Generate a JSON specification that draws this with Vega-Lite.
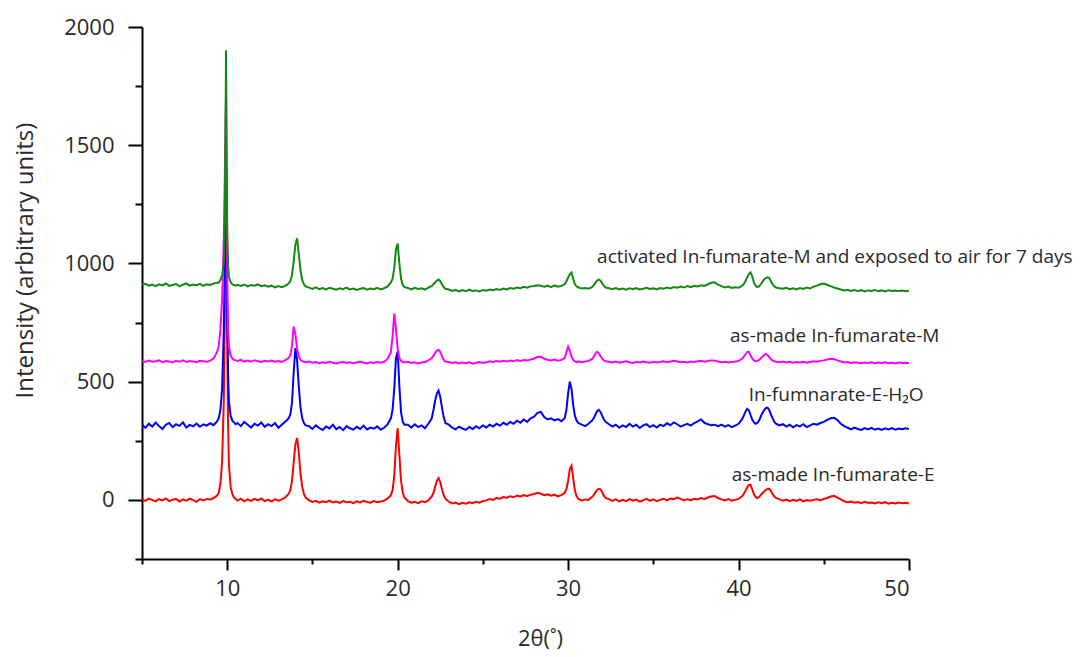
{
  "$schema": "https://vega.github.io/schema/vega-lite/v6.json",
  "width": 767,
  "height": 532,
  "autosize": "none",
  "padding": {"left": 142, "top": 27, "right": 178, "bottom": 98},
  "background": "white",
  "config": {
    "view": {"stroke": null},
    "font": "Open Sans",
    "axis": {"grid": false, "domainColor": "#000", "domainWidth": 2, "tickColor": "#000", "tickWidth": 2, "labelFont": "Open Sans", "labelColor": "#2a2a2a", "labelFontSize": 22, "titleFont": "Open Sans", "titleColor": "#2a2a2a", "titleFontWeight": "normal"}
  },
  "datasets": {
    "xrd": [
      {"x":5.0,"E":2,"H":318,"M":587,"A":910},
      {"x":5.2,"E":-4,"H":305,"M":583,"A":914},
      {"x":5.4,"E":5,"H":322,"M":589,"A":906},
      {"x":5.6,"E":0,"H":310,"M":584,"A":911},
      {"x":5.8,"E":-6,"H":327,"M":586,"A":904},
      {"x":6.0,"E":3,"H":312,"M":590,"A":912},
      {"x":6.2,"E":-2,"H":300,"M":582,"A":907},
      {"x":6.4,"E":6,"H":318,"M":587,"A":915},
      {"x":6.6,"E":-5,"H":325,"M":585,"A":905},
      {"x":6.8,"E":1,"H":308,"M":581,"A":909},
      {"x":7.0,"E":4,"H":320,"M":588,"A":913},
      {"x":7.2,"E":-7,"H":313,"M":584,"A":903},
      {"x":7.4,"E":2,"H":328,"M":590,"A":910},
      {"x":7.6,"E":-3,"H":306,"M":583,"A":916},
      {"x":7.8,"E":5,"H":317,"M":587,"A":906},
      {"x":8.0,"E":-1,"H":311,"M":585,"A":911},
      {"x":8.2,"E":-8,"H":323,"M":582,"A":908},
      {"x":8.4,"E":3,"H":309,"M":588,"A":914},
      {"x":8.6,"E":-2,"H":319,"M":586,"A":905},
      {"x":8.8,"E":4,"H":314,"M":584,"A":912},
      {"x":9.0,"E":2,"H":324,"M":589,"A":909},
      {"x":9.2,"E":8,"H":316,"M":598,"A":915},
      {"x":9.4,"E":18,"H":332,"M":625,"A":918},
      {"x":9.5,"E":30,"H":345,"M":650,"A":918},
      {"x":9.6,"E":70,"H":380,"M":720,"A":930},
      {"x":9.7,"E":160,"H":470,"M":850,"A":950},
      {"x":9.8,"E":420,"H":720,"M":1100,"A":1000},
      {"x":9.86,"E":800,"H":1000,"M":1380,"A":1200},
      {"x":9.9,"E":1250,"H":1300,"M":1600,"A":1550},
      {"x":9.93,"E":1480,"H":1450,"M":1700,"A":1902},
      {"x":9.96,"E":1200,"H":1150,"M":1350,"A":1550},
      {"x":10.0,"E":700,"H":800,"M":950,"A":1150},
      {"x":10.05,"E":320,"H":530,"M":720,"A":990},
      {"x":10.1,"E":150,"H":420,"M":650,"A":945},
      {"x":10.2,"E":55,"H":355,"M":610,"A":920},
      {"x":10.3,"E":25,"H":335,"M":598,"A":912},
      {"x":10.4,"E":10,"H":328,"M":592,"A":908},
      {"x":10.5,"E":4,"H":320,"M":590,"A":906},
      {"x":10.6,"E":-3,"H":325,"M":588,"A":910},
      {"x":10.8,"E":5,"H":312,"M":592,"A":905},
      {"x":11.0,"E":-6,"H":330,"M":585,"A":911},
      {"x":11.2,"E":2,"H":318,"M":589,"A":903},
      {"x":11.4,"E":-4,"H":306,"M":584,"A":909},
      {"x":11.6,"E":4,"H":322,"M":590,"A":906},
      {"x":11.8,"E":-2,"H":314,"M":586,"A":912},
      {"x":12.0,"E":6,"H":327,"M":583,"A":904},
      {"x":12.2,"E":-5,"H":309,"M":588,"A":908},
      {"x":12.4,"E":1,"H":320,"M":585,"A":902},
      {"x":12.6,"E":-7,"H":312,"M":589,"A":906},
      {"x":12.8,"E":3,"H":325,"M":584,"A":899},
      {"x":13.0,"E":-3,"H":305,"M":587,"A":904},
      {"x":13.2,"E":2,"H":318,"M":583,"A":900},
      {"x":13.4,"E":10,"H":330,"M":590,"A":905},
      {"x":13.6,"E":25,"H":345,"M":600,"A":915},
      {"x":13.7,"E":40,"H":360,"M":610,"A":925},
      {"x":13.8,"E":80,"H":410,"M":650,"A":950},
      {"x":13.9,"E":160,"H":540,"M":733,"A":1010},
      {"x":14.0,"E":235,"H":642,"M":700,"A":1080},
      {"x":14.1,"E":262,"H":590,"M":640,"A":1106},
      {"x":14.2,"E":200,"H":480,"M":605,"A":1040},
      {"x":14.3,"E":110,"H":390,"M":592,"A":970},
      {"x":14.4,"E":55,"H":345,"M":587,"A":930},
      {"x":14.5,"E":25,"H":325,"M":584,"A":912},
      {"x":14.6,"E":10,"H":315,"M":582,"A":903},
      {"x":14.8,"E":-2,"H":312,"M":585,"A":898},
      {"x":15.0,"E":-9,"H":300,"M":580,"A":892},
      {"x":15.2,"E":-4,"H":315,"M":583,"A":899},
      {"x":15.4,"E":-12,"H":304,"M":578,"A":891},
      {"x":15.6,"E":-6,"H":296,"M":582,"A":896},
      {"x":15.8,"E":-10,"H":310,"M":579,"A":890},
      {"x":16.0,"E":-3,"H":302,"M":584,"A":897},
      {"x":16.2,"E":-11,"H":318,"M":580,"A":893},
      {"x":16.4,"E":-7,"H":299,"M":577,"A":889},
      {"x":16.6,"E":-13,"H":308,"M":581,"A":895},
      {"x":16.8,"E":-5,"H":295,"M":583,"A":891},
      {"x":17.0,"E":-10,"H":312,"M":579,"A":898},
      {"x":17.2,"E":-8,"H":303,"M":582,"A":890},
      {"x":17.4,"E":-14,"H":297,"M":578,"A":894},
      {"x":17.6,"E":-6,"H":309,"M":581,"A":888},
      {"x":17.8,"E":-11,"H":300,"M":584,"A":893},
      {"x":18.0,"E":-4,"H":314,"M":580,"A":896},
      {"x":18.2,"E":-9,"H":298,"M":577,"A":889},
      {"x":18.4,"E":-12,"H":306,"M":582,"A":894},
      {"x":18.6,"E":-5,"H":301,"M":579,"A":891},
      {"x":18.8,"E":-10,"H":311,"M":583,"A":897},
      {"x":19.0,"E":-7,"H":297,"M":580,"A":890},
      {"x":19.2,"E":-3,"H":305,"M":584,"A":895},
      {"x":19.4,"E":5,"H":318,"M":595,"A":902},
      {"x":19.6,"E":20,"H":345,"M":625,"A":920},
      {"x":19.7,"E":40,"H":380,"M":690,"A":935},
      {"x":19.8,"E":100,"H":470,"M":788,"A":980},
      {"x":19.9,"E":230,"H":600,"M":720,"A":1060},
      {"x":20.0,"E":303,"H":628,"M":640,"A":1084},
      {"x":20.1,"E":190,"H":480,"M":600,"A":1000},
      {"x":20.2,"E":80,"H":370,"M":588,"A":935},
      {"x":20.3,"E":30,"H":330,"M":583,"A":908},
      {"x":20.4,"E":10,"H":318,"M":581,"A":900},
      {"x":20.6,"E":-5,"H":318,"M":584,"A":896},
      {"x":20.8,"E":-12,"H":306,"M":579,"A":890},
      {"x":21.0,"E":-8,"H":320,"M":582,"A":897},
      {"x":21.2,"E":-14,"H":308,"M":577,"A":892},
      {"x":21.4,"E":-6,"H":315,"M":581,"A":895},
      {"x":21.6,"E":-10,"H":303,"M":583,"A":889},
      {"x":21.8,"E":-2,"H":322,"M":590,"A":898},
      {"x":22.0,"E":15,"H":345,"M":600,"A":905},
      {"x":22.1,"E":30,"H":380,"M":610,"A":912},
      {"x":22.2,"E":55,"H":420,"M":622,"A":920},
      {"x":22.3,"E":80,"H":450,"M":632,"A":928},
      {"x":22.4,"E":92,"H":462,"M":635,"A":932},
      {"x":22.5,"E":75,"H":435,"M":625,"A":925},
      {"x":22.6,"E":45,"H":390,"M":608,"A":912},
      {"x":22.7,"E":20,"H":350,"M":593,"A":900},
      {"x":22.8,"E":5,"H":325,"M":585,"A":893},
      {"x":23.0,"E":-8,"H":318,"M":583,"A":890},
      {"x":23.2,"E":-15,"H":305,"M":579,"A":884},
      {"x":23.4,"E":-11,"H":298,"M":582,"A":888},
      {"x":23.6,"E":-18,"H":310,"M":577,"A":882},
      {"x":23.8,"E":-12,"H":302,"M":581,"A":887},
      {"x":24.0,"E":-16,"H":296,"M":578,"A":883},
      {"x":24.2,"E":-10,"H":308,"M":582,"A":889},
      {"x":24.4,"E":-14,"H":300,"M":576,"A":884},
      {"x":24.6,"E":-8,"H":312,"M":580,"A":886},
      {"x":24.8,"E":-12,"H":303,"M":583,"A":882},
      {"x":25.0,"E":-5,"H":315,"M":579,"A":888},
      {"x":25.2,"E":-2,"H":306,"M":582,"A":885},
      {"x":25.4,"E":4,"H":318,"M":586,"A":890},
      {"x":25.6,"E":0,"H":310,"M":583,"A":887},
      {"x":25.8,"E":8,"H":322,"M":587,"A":892},
      {"x":26.0,"E":5,"H":314,"M":584,"A":888},
      {"x":26.2,"E":12,"H":326,"M":588,"A":894},
      {"x":26.4,"E":9,"H":318,"M":585,"A":890},
      {"x":26.6,"E":15,"H":330,"M":589,"A":896},
      {"x":26.8,"E":11,"H":322,"M":586,"A":893},
      {"x":27.0,"E":18,"H":335,"M":591,"A":898},
      {"x":27.2,"E":14,"H":326,"M":588,"A":895},
      {"x":27.4,"E":20,"H":340,"M":592,"A":901},
      {"x":27.6,"E":16,"H":330,"M":590,"A":897},
      {"x":27.8,"E":22,"H":345,"M":594,"A":903},
      {"x":28.0,"E":25,"H":352,"M":598,"A":905},
      {"x":28.2,"E":30,"H":368,"M":604,"A":908},
      {"x":28.4,"E":26,"H":372,"M":605,"A":906},
      {"x":28.6,"E":20,"H":350,"M":597,"A":902},
      {"x":28.8,"E":24,"H":340,"M":593,"A":906},
      {"x":29.0,"E":18,"H":345,"M":590,"A":900},
      {"x":29.2,"E":22,"H":336,"M":594,"A":907},
      {"x":29.4,"E":15,"H":342,"M":589,"A":902},
      {"x":29.6,"E":20,"H":333,"M":592,"A":905},
      {"x":29.8,"E":30,"H":345,"M":600,"A":912},
      {"x":29.9,"E":45,"H":380,"M":625,"A":925},
      {"x":30.0,"E":80,"H":450,"M":648,"A":940},
      {"x":30.1,"E":130,"H":500,"M":630,"A":955},
      {"x":30.2,"E":144,"H":470,"M":605,"A":962},
      {"x":30.3,"E":90,"H":400,"M":592,"A":935},
      {"x":30.4,"E":40,"H":355,"M":586,"A":912},
      {"x":30.5,"E":15,"H":335,"M":583,"A":903},
      {"x":30.6,"E":5,"H":325,"M":586,"A":898},
      {"x":30.8,"E":-3,"H":318,"M":582,"A":894},
      {"x":31.0,"E":2,"H":312,"M":585,"A":896},
      {"x":31.2,"E":0,"H":322,"M":588,"A":893},
      {"x":31.4,"E":12,"H":335,"M":595,"A":900},
      {"x":31.5,"E":20,"H":345,"M":605,"A":908},
      {"x":31.6,"E":32,"H":360,"M":618,"A":918},
      {"x":31.7,"E":42,"H":375,"M":627,"A":928},
      {"x":31.8,"E":47,"H":381,"M":620,"A":932},
      {"x":31.9,"E":45,"H":372,"M":608,"A":928},
      {"x":32.0,"E":32,"H":355,"M":597,"A":915},
      {"x":32.1,"E":18,"H":340,"M":590,"A":905},
      {"x":32.2,"E":8,"H":330,"M":586,"A":898},
      {"x":32.4,"E":3,"H":320,"M":584,"A":895},
      {"x":32.6,"E":-4,"H":310,"M":581,"A":891},
      {"x":32.8,"E":2,"H":318,"M":585,"A":896},
      {"x":33.0,"E":-6,"H":305,"M":580,"A":890},
      {"x":33.2,"E":0,"H":315,"M":583,"A":894},
      {"x":33.4,"E":-5,"H":308,"M":586,"A":889},
      {"x":33.6,"E":3,"H":322,"M":582,"A":895},
      {"x":33.8,"E":-3,"H":310,"M":579,"A":891},
      {"x":34.0,"E":1,"H":318,"M":584,"A":896},
      {"x":34.2,"E":-7,"H":304,"M":581,"A":890},
      {"x":34.4,"E":-2,"H":315,"M":585,"A":893},
      {"x":34.6,"E":4,"H":320,"M":582,"A":897},
      {"x":34.8,"E":-4,"H":308,"M":580,"A":892},
      {"x":35.0,"E":2,"H":316,"M":584,"A":895},
      {"x":35.2,"E":-5,"H":306,"M":581,"A":890},
      {"x":35.4,"E":0,"H":318,"M":583,"A":896},
      {"x":35.6,"E":5,"H":312,"M":586,"A":893},
      {"x":35.8,"E":-2,"H":324,"M":582,"A":898},
      {"x":36.0,"E":6,"H":316,"M":585,"A":894},
      {"x":36.2,"E":3,"H":328,"M":588,"A":900},
      {"x":36.4,"E":10,"H":320,"M":585,"A":897},
      {"x":36.6,"E":4,"H":310,"M":582,"A":902},
      {"x":36.8,"E":-2,"H":316,"M":584,"A":898},
      {"x":37.0,"E":3,"H":322,"M":581,"A":904},
      {"x":37.2,"E":-1,"H":314,"M":585,"A":900},
      {"x":37.4,"E":5,"H":325,"M":583,"A":906},
      {"x":37.6,"E":2,"H":332,"M":586,"A":903},
      {"x":37.8,"E":8,"H":340,"M":588,"A":908},
      {"x":38.0,"E":4,"H":326,"M":584,"A":905},
      {"x":38.2,"E":10,"H":320,"M":587,"A":912},
      {"x":38.4,"E":14,"H":316,"M":590,"A":918},
      {"x":38.6,"E":16,"H":318,"M":589,"A":920},
      {"x":38.8,"E":8,"H":312,"M":585,"A":910},
      {"x":39.0,"E":2,"H":318,"M":582,"A":904},
      {"x":39.2,"E":-2,"H":310,"M":584,"A":898},
      {"x":39.4,"E":3,"H":316,"M":581,"A":902},
      {"x":39.6,"E":-3,"H":308,"M":583,"A":896},
      {"x":39.8,"E":0,"H":314,"M":585,"A":899},
      {"x":40.0,"E":4,"H":322,"M":588,"A":897},
      {"x":40.2,"E":15,"H":340,"M":597,"A":905},
      {"x":40.3,"E":25,"H":355,"M":605,"A":912},
      {"x":40.4,"E":38,"H":372,"M":615,"A":925},
      {"x":40.5,"E":52,"H":385,"M":625,"A":940},
      {"x":40.6,"E":62,"H":380,"M":627,"A":955},
      {"x":40.7,"E":64,"H":360,"M":612,"A":962},
      {"x":40.8,"E":45,"H":340,"M":598,"A":945},
      {"x":40.9,"E":25,"H":328,"M":590,"A":920},
      {"x":41.0,"E":12,"H":322,"M":586,"A":905},
      {"x":41.1,"E":8,"H":325,"M":588,"A":900},
      {"x":41.2,"E":12,"H":335,"M":592,"A":903},
      {"x":41.3,"E":20,"H":352,"M":598,"A":912},
      {"x":41.4,"E":28,"H":368,"M":606,"A":922},
      {"x":41.5,"E":36,"H":380,"M":613,"A":932},
      {"x":41.6,"E":42,"H":388,"M":618,"A":938},
      {"x":41.7,"E":46,"H":390,"M":612,"A":941},
      {"x":41.8,"E":47,"H":380,"M":603,"A":938},
      {"x":41.9,"E":38,"H":362,"M":595,"A":925},
      {"x":42.0,"E":25,"H":345,"M":589,"A":912},
      {"x":42.1,"E":14,"H":330,"M":586,"A":903},
      {"x":42.2,"E":8,"H":322,"M":584,"A":898},
      {"x":42.4,"E":2,"H":315,"M":582,"A":895},
      {"x":42.6,"E":-3,"H":320,"M":585,"A":893},
      {"x":42.8,"E":1,"H":310,"M":581,"A":897},
      {"x":43.0,"E":-5,"H":318,"M":584,"A":891},
      {"x":43.2,"E":0,"H":307,"M":580,"A":895},
      {"x":43.4,"E":-4,"H":316,"M":583,"A":890},
      {"x":43.6,"E":2,"H":311,"M":581,"A":896},
      {"x":43.8,"E":-6,"H":320,"M":584,"A":892},
      {"x":44.0,"E":-1,"H":308,"M":580,"A":898},
      {"x":44.2,"E":-4,"H":315,"M":583,"A":894},
      {"x":44.4,"E":0,"H":322,"M":586,"A":902},
      {"x":44.6,"E":3,"H":318,"M":584,"A":906},
      {"x":44.8,"E":-2,"H":325,"M":588,"A":912},
      {"x":45.0,"E":4,"H":330,"M":590,"A":915},
      {"x":45.2,"E":8,"H":338,"M":594,"A":910},
      {"x":45.4,"E":14,"H":345,"M":597,"A":904},
      {"x":45.6,"E":17,"H":347,"M":596,"A":898},
      {"x":45.8,"E":10,"H":338,"M":590,"A":894},
      {"x":46.0,"E":2,"H":322,"M":585,"A":890},
      {"x":46.2,"E":-6,"H":312,"M":581,"A":886},
      {"x":46.4,"E":-10,"H":305,"M":583,"A":889},
      {"x":46.6,"E":-7,"H":298,"M":579,"A":884},
      {"x":46.8,"E":-12,"H":306,"M":582,"A":888},
      {"x":47.0,"E":-9,"H":300,"M":580,"A":883},
      {"x":47.2,"E":-14,"H":296,"M":578,"A":887},
      {"x":47.4,"E":-8,"H":304,"M":581,"A":882},
      {"x":47.6,"E":-13,"H":298,"M":579,"A":886},
      {"x":47.8,"E":-11,"H":305,"M":582,"A":884},
      {"x":48.0,"E":-15,"H":297,"M":578,"A":888},
      {"x":48.2,"E":-10,"H":302,"M":581,"A":883},
      {"x":48.4,"E":-14,"H":296,"M":579,"A":886},
      {"x":48.6,"E":-9,"H":303,"M":582,"A":882},
      {"x":48.8,"E":-16,"H":298,"M":578,"A":887},
      {"x":49.0,"E":-12,"H":304,"M":580,"A":884},
      {"x":49.2,"E":-15,"H":297,"M":577,"A":886},
      {"x":49.4,"E":-11,"H":302,"M":581,"A":883},
      {"x":49.6,"E":-14,"H":299,"M":579,"A":885},
      {"x":49.8,"E":-12,"H":303,"M":580,"A":882},
      {"x":50.0,"E":-15,"H":300,"M":578,"A":885}
    ],
    "labels": [
      {"x":31.7,"y":1000,"t":"activated In-fumarate-M and exposed to air for 7 days"},
      {"x":39.5,"y":669,"t":"as-made In-fumarate-M"},
      {"x":40.6,"y":419,"t":"In-fumnarate-E-H₂O"},
      {"x":39.6,"y":80,"t":"as-made In-fumarate-E"}
    ]
  },
  "layer": [
    {
      "data": {"name": "xrd"},
      "transform": [{"fold": ["E", "H", "M", "A"], "as": ["s", "v"]}],
      "mark": {"type": "line", "strokeWidth": 2, "clip": true},
      "encoding": {
        "x": {"field": "x", "type": "quantitative", "scale": {"domain": [5, 50], "nice": false, "zero": false},
          "axis": {"orient": "bottom", "values": [10, 20, 30, 40, 50], "format": "d", "tickSize": 11, "labelPadding": 8, "title": "2θ(˚)", "titleFontSize": 22, "titleX": 398, "titleY": 86, "titleBaseline": "alphabetic"}},
        "y": {"field": "v", "type": "quantitative", "scale": {"domain": [-250, 2000], "nice": false, "zero": false},
          "axis": {"orient": "left", "values": [0, 500, 1000, 1500, 2000], "format": "d", "tickSize": 14, "labelPadding": 14, "title": "Intensity (arbitrary units)", "titleFontSize": 24, "titleX": -110, "titleY": 233, "titleBaseline": "alphabetic"}},
        "color": {"field": "s", "type": "nominal", "scale": {"domain": ["E", "H", "M", "A"], "range": ["#ff0000", "#0000ff", "#ff00ff", "#108a10"]}, "legend": null}
      }
    },
    {
      "data": {"name": "labels"},
      "mark": {"type": "text", "align": "left", "baseline": "alphabetic", "fontSize": 19, "color": "#2a2a2a", "font": "Open Sans"},
      "encoding": {
        "x": {"field": "x", "type": "quantitative", "axis": {"orient": "bottom", "values": [5, 15, 25, 35, 45], "tickSize": 5, "labels": false, "domain": false, "title": null}},
        "y": {"field": "y", "type": "quantitative", "axis": {"orient": "left", "values": [-250, 250, 750, 1250, 1750], "tickSize": 7, "labels": false, "domain": false, "title": null}},
        "text": {"field": "t"}
      }
    }
  ],
  "resolve": {"axis": {"x": "independent", "y": "independent"}}
}
